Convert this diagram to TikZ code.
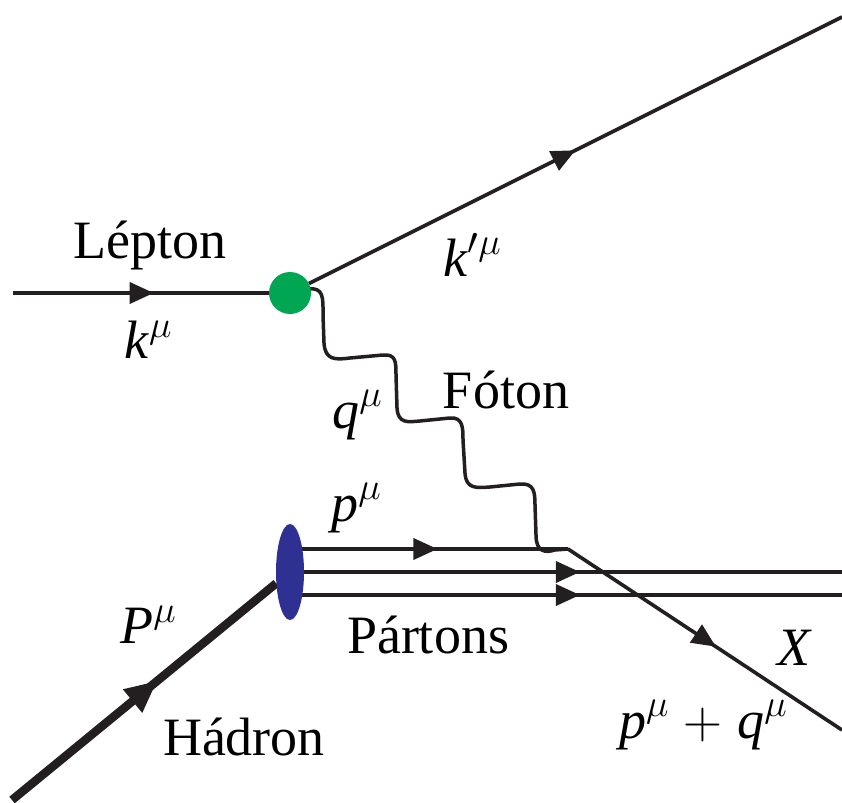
\RequirePackage{fix-cm}
\documentclass[tikz,border=0pt]{standalone}
\usepackage{fontspec}
\setmainfont{Liberation Serif}
\usetikzlibrary{arrows.meta,decorations.markings,shapes.geometric,backgrounds}
\definecolor{vgreen}{HTML}{00A651}
\definecolor{vblue}{HTML}{2E3192}
\definecolor{ink}{HTML}{231F20}
\newcommand\supmu[2][]{\textit{#2}\raisebox{0.40em}{\fontsize{38}{38}\selectfont$#1\mu$}}
\begin{document}
\begin{tikzpicture}[x=1pt,y=-1pt,
  lbl/.style={inner sep=0,font=\fontsize{54}{60}\selectfont},
  fermion/.style={draw=ink,line width=3.6pt,postaction=decorate,
    decoration={markings,mark=at position #1 with {\arrow[ink]{Triangle[length=24pt,width=21pt]}}}},
  fermion/.default=0.5,
  hadron/.style={draw=ink,line width=8.5pt,postaction=decorate,
    decoration={markings,mark=at position #1 with {\arrow[ink]{Triangle[length=32pt,width=28pt]}}}},
  hadron/.default=0.55,
  photon/.style={draw=ink,line width=3.5pt,line join=round,line cap=round}
]
\useasboundingbox (0,0) rectangle (842,802);
\node[circle,fill=vgreen,minimum size=42pt,inner sep=0] (v1) at (290,293) {};
\node[ellipse,fill=vblue,minimum width=28pt,minimum height=96pt,inner sep=0] (blob) at (290,572) {};
\coordinate (lin) at (13,293);
\coordinate (lout) at (842,17);
\coordinate (hin) at (12,800);
\coordinate (v2) at (568,549);
\coordinate (xout) at (842,730);
\coordinate (pt) at (296,549);
\coordinate (pm) at (296,572);
\coordinate (pb) at (296,595);
\coordinate (pmo) at (842,572);
\coordinate (pbo) at (842,595);
\begin{scope}[on background layer]
\draw[fermion=0.55] (lin) -- (v1);
\draw[fermion=0.5] (v1) -- (lout);
\draw[hadron] (hin) -- (blob);
\draw[fermion=0.52] (pt) -- (v2);
\draw[fermion=0.52] (pm) -- (pmo);
\draw[fermion=0.52] (pb) -- (pbo);
\draw[photon] (v1) ++(18,-4) .. controls (324,287) and (323,298) .. (323,315)
  -- (324,343) .. controls (325,360) and (335,360) .. (350,358)
  -- (383,355) .. controls (396,354) and (396,362) .. (396,375)
  -- (397,408) .. controls (398,424) and (408,422) .. (420,421)
  -- (450,418) .. controls (463,417) and (463,428) .. (463,440)
  -- (465,473) .. controls (466,489) and (476,488) .. (490,487)
  -- (520,484) .. controls (534,483) and (535,492) .. (535,505)
  -- (536,535) .. controls (536,552) and (545,553) .. (555,550)
  -- (v2);
\end{scope}
\draw[fermion=0.54] (v2) -- (xout);
\node[lbl] (tlep) at (150,245) {Lépton};
\node[lbl] (tk) at (148,340) {\supmu{k}};
\node[lbl] (tkp) at (472,255) {\supmu[\prime]{k}};
\node[lbl] (tq) at (357,415) {\supmu{q}};
\node[lbl] (tfot) at (506,390) {Fóton};
\node[lbl] (tp) at (356,508) {\supmu{p}};
\node[lbl] (tP) at (148,625) {\supmu{P}};
\node[lbl] (tpart) at (428,635) {Pártons};
\node[lbl] (tX) at (795,648) {\textit{X}};
\node[lbl] (thad) at (244,737) {Hádron};
\node[lbl] (tpq) at (703,725) {\supmu{p}$\;+\;$\supmu{q}};
\end{tikzpicture}
\end{document}
